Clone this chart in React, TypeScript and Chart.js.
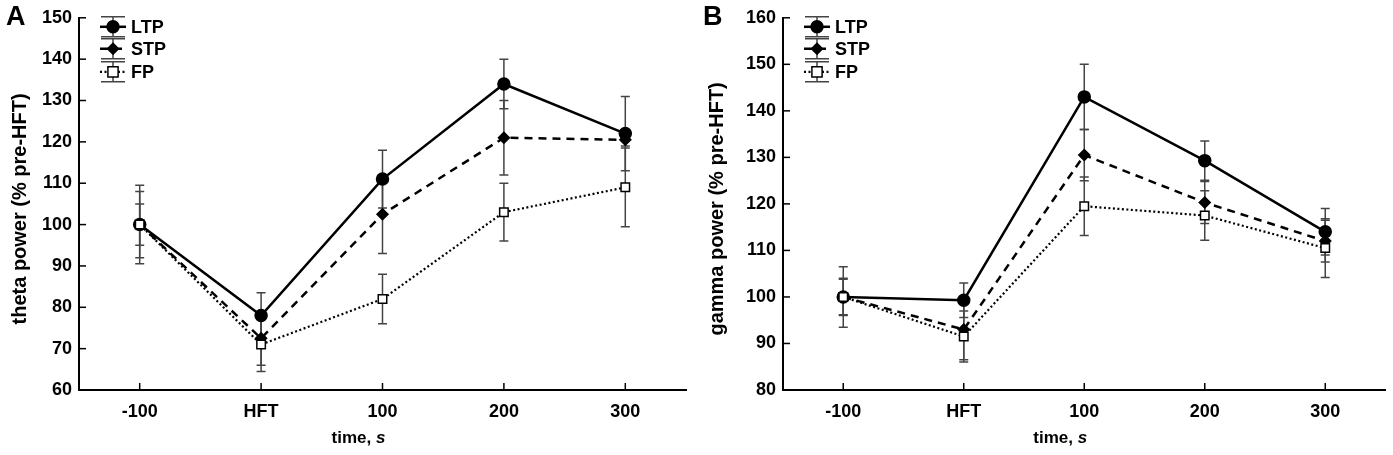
import { Chart, registerables } from 'chart.js'
import { useEffect, useRef } from 'react'

Chart.register(...registerables)

const categories = ['-100', 'HFT', '100', '200', '300']

// panel A - theta
const thetaLTP = [100, 78, 111, 134, 122]
const thetaLTPErr = [9.5, 5.5, 7, 6, 9]
const thetaSTP = [100, 72.5, 102.5, 121, 120.5]
const thetaSTPErr = [8, 6.5, 9.5, 9, 1.5]
const thetaFP = [100, 71, 82, 103, 109]
const thetaFPErr = [5, 6.5, 6, 7, 9.5]

// panel B - gamma
const gammaLTP = [100, 99.3, 143, 129.3, 114]
const gammaLTPErr = [6.5, 3.7, 7, 4.2, 5]
const gammaSTP = [100, 93, 130.5, 120.3, 112]
const gammaSTPErr = [4, 6.5, 5.5, 4.5, 4.5]
const gammaFP = [100, 91.5, 119.5, 117.5, 110.5]
const gammaFPErr = [3.8, 5.5, 6.3, 5.3, 6.3]

const seriesNames = ['LTP', 'STP', 'FP']

const FONT = '"Liberation Sans", Arial, sans-serif'

interface PanelProps {
  letter: string
  yTitle: string
  yMin: number
  yMax: number
  values: number[][]
  errors: number[][]
  left: number
  width: number
  areaLeft: number
  areaRight: number
}

const styles = [
  { dash: [] as number[], width: 2.5, point: 'circle', radius: 6, fill: '#000' },
  { dash: [8, 6], width: 2.5, point: 'rectRot', radius: 5.5, fill: '#000' },
  { dash: [2, 2.5], width: 2.2, point: 'rect', radius: 6, fill: '#fff' },
]

function drawMarker(ctx: CanvasRenderingContext2D, kind: string, x: number, y: number, r: number, fill: string) {
  ctx.save()
  ctx.setLineDash([])
  ctx.fillStyle = fill
  ctx.strokeStyle = '#000'
  ctx.lineWidth = 1.5
  ctx.beginPath()
  if (kind === 'circle') {
    ctx.arc(x, y, r, 0, Math.PI * 2)
  } else if (kind === 'rectRot') {
    ctx.moveTo(x, y - r)
    ctx.lineTo(x + r, y)
    ctx.lineTo(x, y + r)
    ctx.lineTo(x - r, y)
    ctx.closePath()
  } else {
    const s = r * 0.85
    ctx.rect(x - s, y - s, s * 2, s * 2)
  }
  ctx.fill()
  ctx.stroke()
  ctx.restore()
}

function Panel(props: PanelProps) {
  const ref = useRef<HTMLCanvasElement>(null)

  useEffect(() => {
    if (!ref.current) return

    const errorBars = {
      id: 'errorBars',
      beforeDatasetsDraw(chart: any) {
        const ctx = chart.ctx
        const yScale = chart.scales.y
        ctx.save()
        ctx.strokeStyle = '#444'
        ctx.lineWidth = 1.5
        props.values.forEach((vals, i) => {
          const meta = chart.getDatasetMeta(i)
          vals.forEach((v, j) => {
            const x = meta.data[j].x
            const top = yScale.getPixelForValue(v + props.errors[i][j])
            const bottom = yScale.getPixelForValue(v - props.errors[i][j])
            ctx.beginPath()
            ctx.moveTo(x, top)
            ctx.lineTo(x, bottom)
            ctx.moveTo(x - 4.5, top)
            ctx.lineTo(x + 4.5, top)
            ctx.moveTo(x - 4.5, bottom)
            ctx.lineTo(x + 4.5, bottom)
            ctx.stroke()
          })
        })
        ctx.restore()
      },
    }

    const decorations = {
      id: 'decorations',
      afterDraw(chart: any) {
        const ctx = chart.ctx
        const area = chart.chartArea
        const xScale = chart.scales.x
        const yScale = chart.scales.y
        ctx.save()

        // inward ticks on both axes
        ctx.strokeStyle = '#000'
        ctx.lineWidth = 1.5
        categories.forEach((_, j) => {
          const x = xScale.getPixelForValue(j)
          ctx.beginPath()
          ctx.moveTo(x, area.bottom)
          ctx.lineTo(x, area.bottom - 7)
          ctx.stroke()
        })
        yScale.ticks.forEach((t: any) => {
          const y = yScale.getPixelForValue(t.value)
          ctx.beginPath()
          ctx.moveTo(area.left, y)
          ctx.lineTo(area.left + 7, y)
          ctx.stroke()
        })

        // panel letter
        ctx.fillStyle = '#000'
        ctx.font = `bold 27px ${FONT}`
        ctx.textAlign = 'left'
        ctx.textBaseline = 'middle'
        ctx.fillText(props.letter, 6, 18)

        // y title
        ctx.save()
        ctx.translate(20, (area.top + area.bottom) / 2 + 5)
        ctx.rotate(-Math.PI / 2)
        ctx.font = `bold 20px ${FONT}`
        ctx.textAlign = 'center'
        ctx.fillText(props.yTitle, 0, 0)
        ctx.restore()

        // x title: "time, s" with italic s
        ctx.font = `bold 17px ${FONT}`
        const a = 'time, '
        ctx.textAlign = 'left'
        const wa = ctx.measureText(a).width
        ctx.font = `italic bold 17px ${FONT}`
        const wb = ctx.measureText('s').width
        const cx = (area.left + area.right) / 2 - 24
        const x0 = cx - (wa + wb) / 2
        ctx.font = `bold 17px ${FONT}`
        ctx.fillText(a, x0, 438)
        ctx.font = `italic bold 17px ${FONT}`
        ctx.fillText('s', x0 + wa, 438)

        // legend
        const lcx = area.left + 34
        const centers = [area.top + 9, area.top + 31, area.top + 54]
        seriesNames.forEach((name, i) => {
          const cy = centers[i]
          const st = styles[i]
          ctx.strokeStyle = '#444'
          ctx.lineWidth = 1.5
          ctx.setLineDash([])
          ctx.beginPath()
          ctx.moveTo(lcx, cy - 10)
          ctx.lineTo(lcx, cy + 10)
          ctx.moveTo(lcx - 12, cy - 10)
          ctx.lineTo(lcx + 12, cy - 10)
          ctx.moveTo(lcx - 12, cy + 10)
          ctx.lineTo(lcx + 12, cy + 10)
          ctx.stroke()
          ctx.strokeStyle = '#000'
          ctx.lineWidth = st.width
          ctx.setLineDash(st.dash)
          ctx.beginPath()
          ctx.moveTo(lcx - 13, cy)
          ctx.lineTo(lcx + 13, cy)
          ctx.stroke()
          drawMarker(ctx, st.point, lcx, cy, st.radius, st.fill)
          ctx.setLineDash([])
          ctx.fillStyle = '#000'
          ctx.font = `bold 18px ${FONT}`
          ctx.textAlign = 'left'
          ctx.textBaseline = 'middle'
          ctx.fillText(name, lcx + 18, cy + 1)
        })
        ctx.restore()
      },
    }

    const chart = new Chart(ref.current, {
      type: 'line',
      data: {
        labels: categories,
        datasets: props.values.map((vals, i) => ({
          label: seriesNames[i],
          data: vals,
          borderColor: '#000',
          borderWidth: styles[i].width,
          borderDash: styles[i].dash,
          pointStyle: styles[i].point as any,
          pointRadius: styles[i].radius,
          pointBackgroundColor: styles[i].fill,
          pointBorderColor: '#000',
          pointBorderWidth: 1.5,
          tension: 0,
          order: 2 - i,
        })),
      },
      options: {
        animation: false,
        responsive: false,
        devicePixelRatio: 1,
        layout: {
          padding: { top: 16, right: props.width - props.areaRight, left: 0, bottom: 0 },
        },
        scales: {
          x: {
            type: 'category',
            offset: true,
            grid: { display: false },
            border: { color: '#000', width: 2 },
            ticks: {
              color: '#000',
              padding: 3,
              font: { family: FONT, size: 18, weight: 'bold' },
            },
            afterFit: (scale: any) => {
              scale.height = 65
            },
          },
          y: {
            min: props.yMin,
            max: props.yMax,
            grid: {
              drawOnChartArea: false,
              drawTicks: false,
            },
            border: { color: '#000', width: 2 },
            ticks: {
              stepSize: 10,
              color: '#000',
              padding: 7,
              font: { family: FONT, size: 18, weight: 'bold' },
            },
            afterFit: (scale: any) => {
              scale.width = props.areaLeft
            },
          },
        },
        plugins: {
          legend: { display: false },
          tooltip: { enabled: false },
        },
      },
      plugins: [errorBars, decorations],
    })

    return () => chart.destroy()
  }, [])

  return (
    <canvas
      ref={ref}
      width={props.width}
      height={455}
      style={{ position: 'absolute', left: props.left, top: 0, width: props.width, height: 455 }}
    />
  )
}

export default function App() {
  return (
    <div style={{ position: 'absolute', left: 0, top: 0, width: 1393, height: 455, background: '#fff' }}>
      <Panel
        letter='A'
        yTitle='theta power (% pre-HFT)'
        yMin={60}
        yMax={150}
        values={[thetaLTP, thetaSTP, thetaFP]}
        errors={[thetaLTPErr, thetaSTPErr, thetaFPErr]}
        left={0}
        width={697}
        areaLeft={79}
        areaRight={686}
      />
      <Panel
        letter='B'
        yTitle='gamma power (% pre-HFT)'
        yMin={80}
        yMax={160}
        values={[gammaLTP, gammaSTP, gammaFP]}
        errors={[gammaLTPErr, gammaSTPErr, gammaFPErr]}
        left={697}
        width={696}
        areaLeft={86}
        areaRight={689}
      />
    </div>
  )
}
